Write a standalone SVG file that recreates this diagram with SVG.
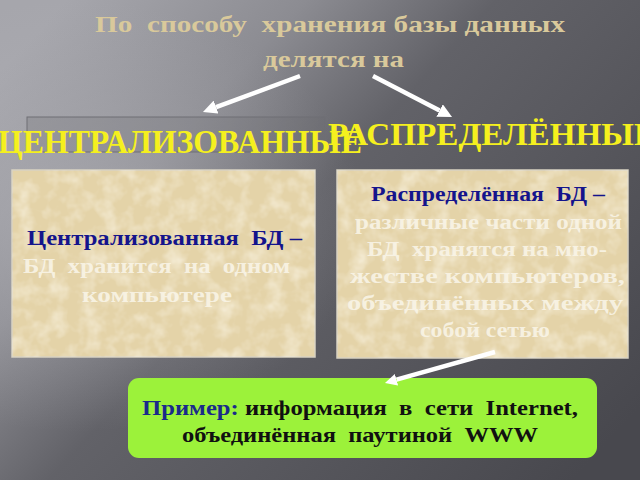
<svg xmlns="http://www.w3.org/2000/svg" width="640" height="480" viewBox="0 0 640 480" font-family="'Liberation Serif', serif">
<defs>
<linearGradient id="bg" x1="0" y1="0.15" x2="1" y2="0.85">
<stop offset="0" stop-color="#a6a6ac"/>
<stop offset="0.25" stop-color="#8c8c92"/>
<stop offset="0.45" stop-color="#626268"/>
<stop offset="1" stop-color="#48484e"/>
</linearGradient>
<radialGradient id="glow" cx="0.12" cy="0.45" r="0.45">
<stop offset="0" stop-color="#b4b4ba" stop-opacity="0.55"/>
<stop offset="1" stop-color="#b4b4ba" stop-opacity="0"/>
</radialGradient>
<filter id="tex" x="0" y="0" width="1" height="1">
<feTurbulence type="fractalNoise" baseFrequency="0.06" numOctaves="3" seed="4" result="n"/>
<feColorMatrix in="n" type="matrix" values="0 0 0 0 1  0 0 0 0 0.97  0 0 0 0 0.88  0 0 0 1.1 -0.45" result="c"/>
<feComposite in="c" in2="SourceGraphic" operator="in"/>
</filter>
<marker id="ah" viewBox="0 -7 14 14" refX="0" refY="0" markerWidth="14" markerHeight="14" markerUnits="userSpaceOnUse" orient="auto">
<path d="M0,-7 L14,0 L0,7 z" fill="#ffffff"/>
</marker>
<marker id="ah2" viewBox="0 -6 12 12" refX="0" refY="0" markerWidth="12" markerHeight="12" markerUnits="userSpaceOnUse" orient="auto">
<path d="M0,-6 L12,0 L0,6 z" fill="#ffffff"/>
</marker>
</defs>
<style>
text { font-family: 'Liberation Serif', serif; font-weight: 700; white-space: pre; }
.title { fill: #d9c99b; font-size: 23px; }
.head { fill: #f5f01e; }
.blue { fill: #14148c; font-size: 20px; }
.wht { fill: #faf6ea; fill-opacity: 0.85; font-size: 20px; }
.card { fill: #e4d3a8; stroke: #d8d2c2; stroke-width: 1.5; }
.arrow { stroke: #ffffff; stroke-width: 4.5; fill: none; }
.grn { fill: #111111; font-size: 21px; }
</style>
<rect x="0" y="0" width="640" height="480" fill="url(#bg)"/>
<rect x="0" y="0" width="640" height="480" fill="url(#glow)"/>

<g id="title">
<text class="title" x="95" y="32" textLength="470" lengthAdjust="spacingAndGlyphs">По  способу  хранения базы данных</text>
<text class="title" x="263" y="67" textLength="141" lengthAdjust="spacingAndGlyphs">делятся на</text>
</g>

<g id="heading-central">
<rect x="27" y="117" width="298" height="35" fill="#6a6a70" fill-opacity="0.25" stroke="#6f6f75" stroke-width="1"/>
<text class="head" x="-2" y="153" font-size="34" textLength="364" lengthAdjust="spacingAndGlyphs">ЦЕНТРАЛИЗОВАННЫЕ</text>
</g>

<g id="heading-distributed">
<text class="head" x="328" y="145" font-size="31" textLength="328" lengthAdjust="spacingAndGlyphs">РАСПРЕДЕЛЁННЫЕ</text>
</g>

<g id="box-central">
<rect class="card" x="12" y="170" width="303" height="187"/>
<rect x="12" y="170" width="303" height="187" fill="#e4d3a8" filter="url(#tex)"/>
<text class="blue" x="27" y="245" textLength="275" lengthAdjust="spacingAndGlyphs">Централизованная  БД –</text>
<text class="wht" x="23" y="273" textLength="267" lengthAdjust="spacingAndGlyphs">БД  хранится  на  одном</text>
<text class="wht" x="82" y="302" textLength="150" lengthAdjust="spacingAndGlyphs">компьютере</text>
</g>

<g id="box-distributed">
<rect class="card" x="337" y="170" width="291" height="188"/>
<rect x="337" y="170" width="291" height="188" fill="#e4d3a8" filter="url(#tex)"/>
<text class="blue" x="371" y="201" font-size="21" textLength="234" lengthAdjust="spacingAndGlyphs">Распределённая  БД –</text>
<text class="wht" x="355" y="229" textLength="267" lengthAdjust="spacingAndGlyphs">различные части одной</text>
<text class="wht" x="367" y="256" textLength="240" lengthAdjust="spacingAndGlyphs">БД  хранятся на мно-</text>
<text class="wht" x="350" y="283" textLength="275" lengthAdjust="spacingAndGlyphs">жестве компьютеров,</text>
<text class="wht" x="347" y="310" textLength="276" lengthAdjust="spacingAndGlyphs">объединённых между</text>
<text class="wht" x="420" y="337" textLength="130" lengthAdjust="spacingAndGlyphs">собой сетью</text>
</g>

<g id="example">
<rect x="128" y="378" width="469" height="80" rx="11" fill="#9cf23a"/>
<text class="grn" x="142" y="415" textLength="436" lengthAdjust="spacingAndGlyphs"><tspan fill="#1a2a8a">Пример:</tspan> информация  в  сети  Internet,</text>
<text class="grn" x="182" y="442" textLength="356" lengthAdjust="spacingAndGlyphs">объединённая  паутиной  WWW</text>
</g>

<g id="connectors">
<line class="arrow" x1="300" y1="76" x2="216.1" y2="107.1" marker-end="url(#ah)"/>
<line class="arrow" x1="373" y1="76" x2="439.6" y2="110.5" marker-end="url(#ah)"/>
<line class="arrow" stroke-width="3.5" x1="495" y1="352" x2="396.5" y2="379.7" marker-end="url(#ah2)"/>
</g>
</svg>
